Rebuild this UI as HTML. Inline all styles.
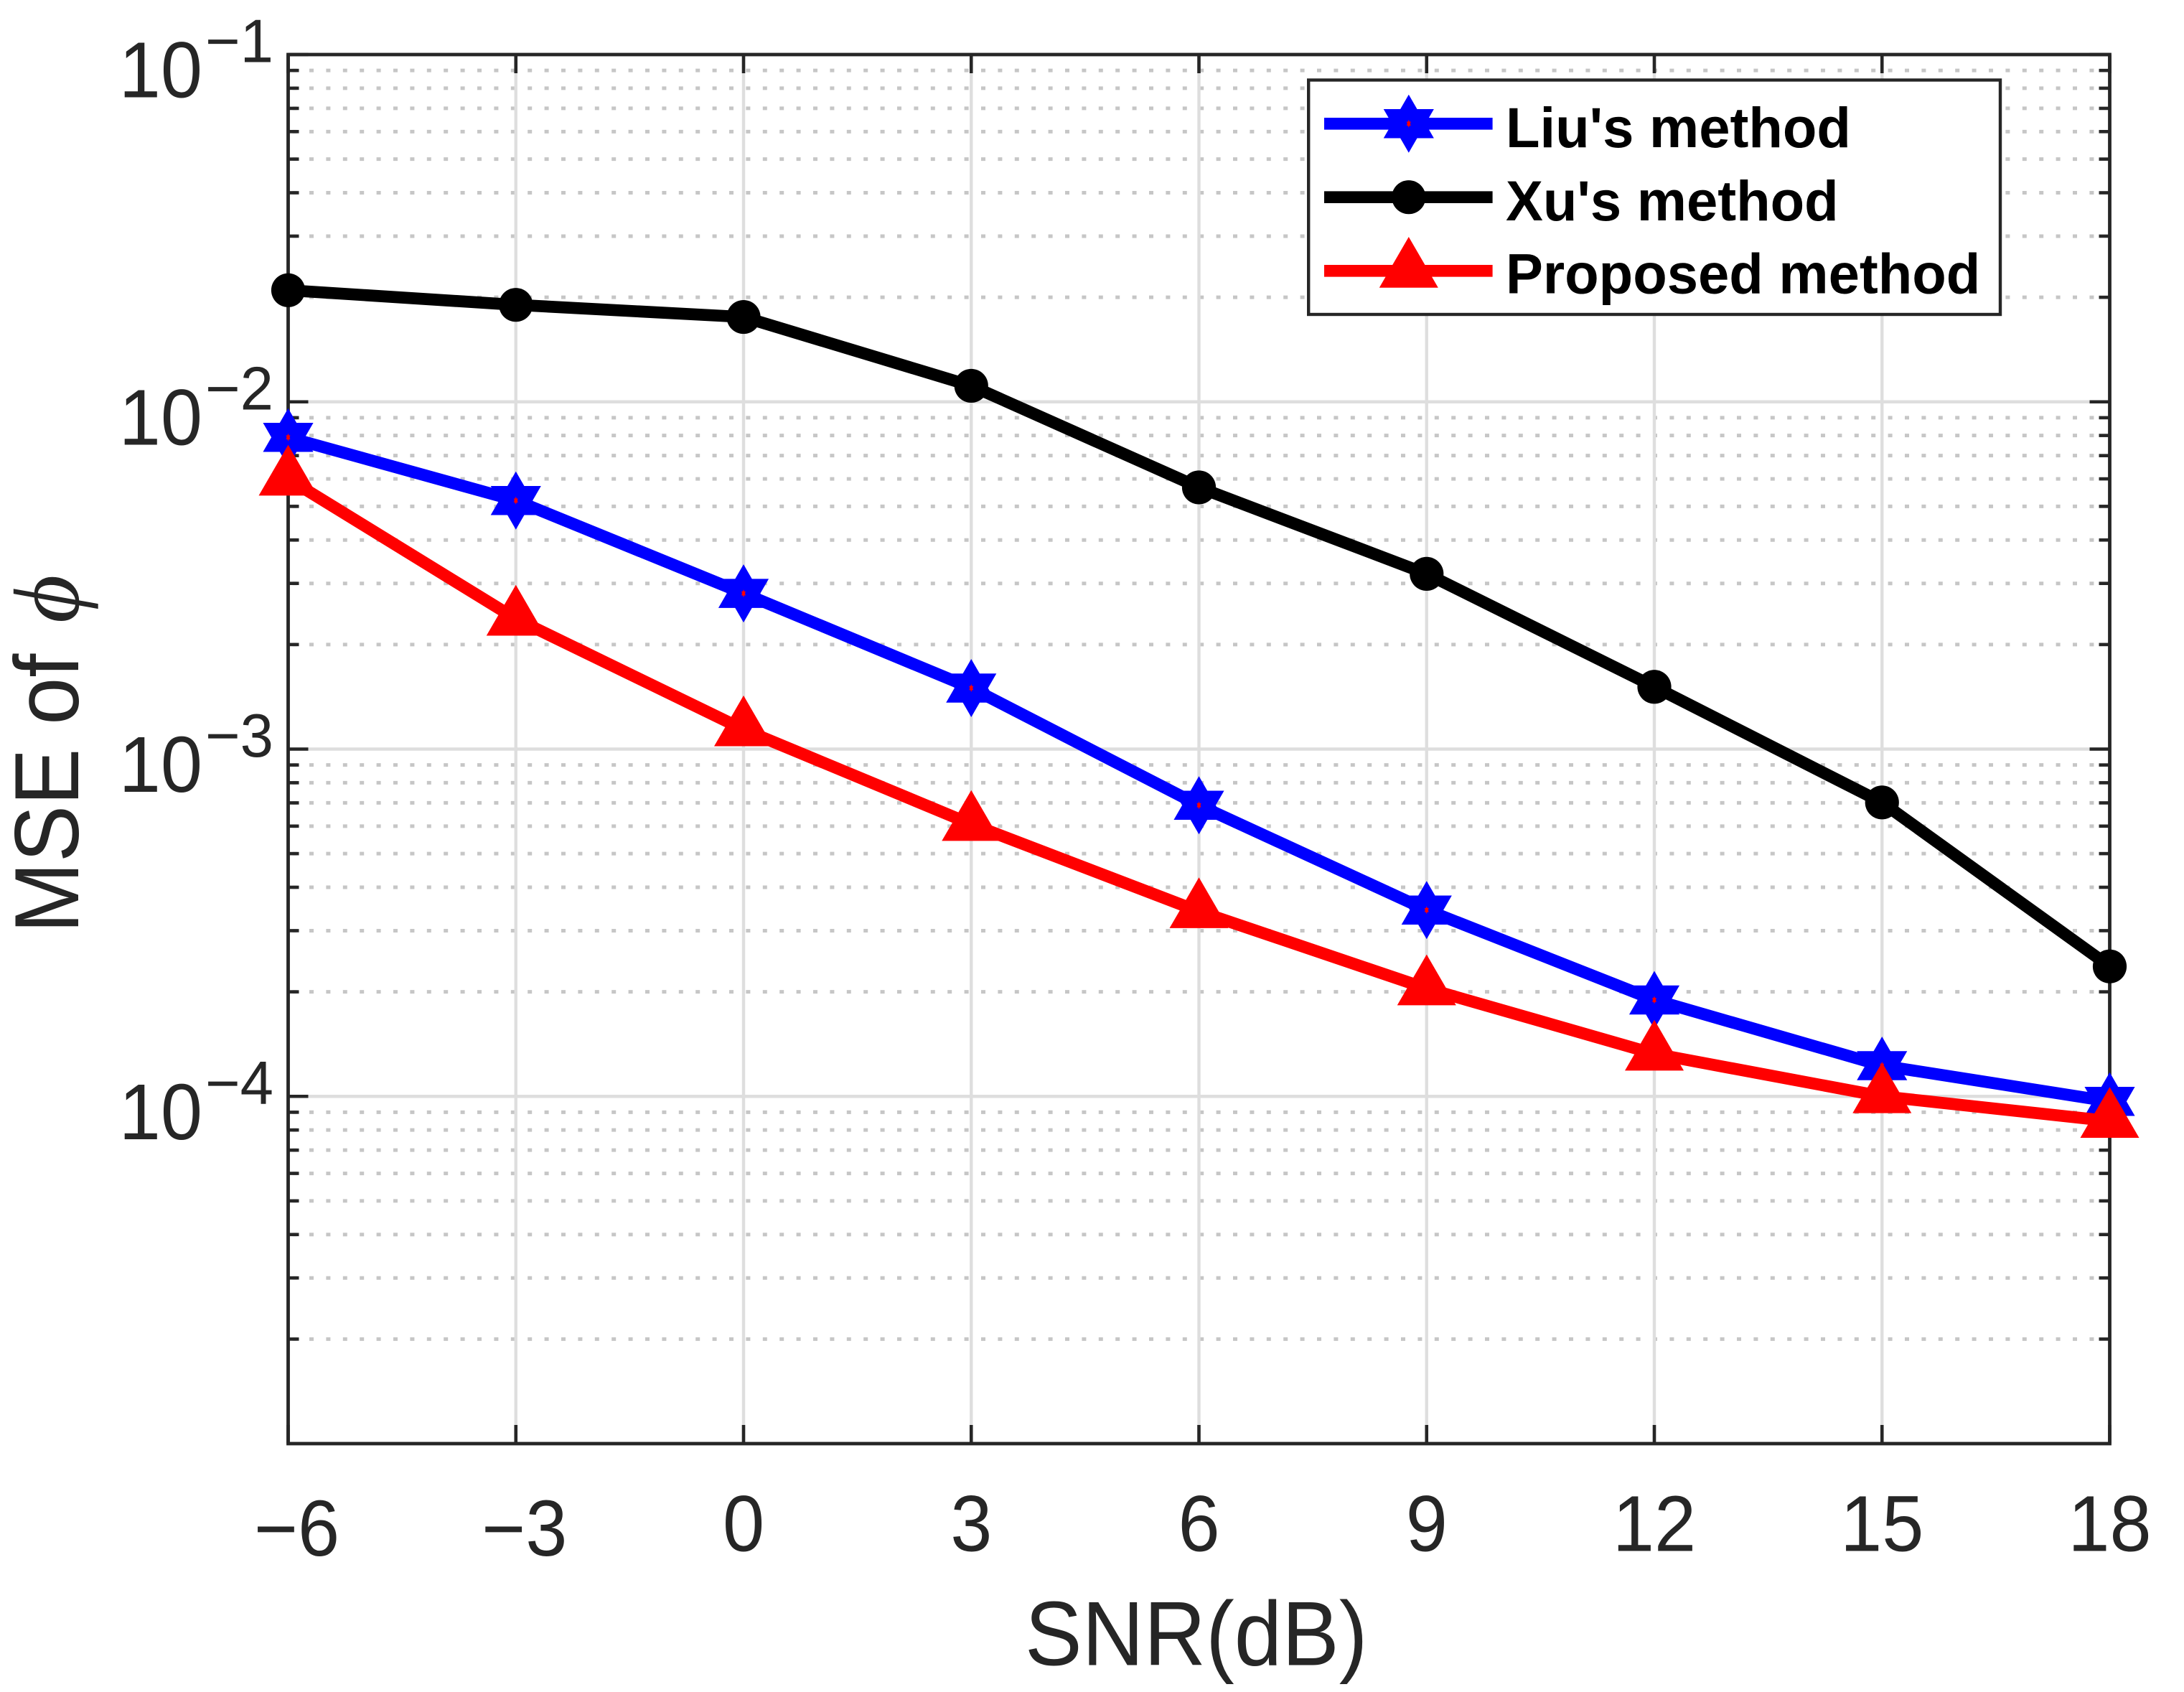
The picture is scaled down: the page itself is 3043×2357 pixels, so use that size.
<!DOCTYPE html>
<html lang="en">
<head>
<meta charset="utf-8">
<title>MSE of phi vs SNR</title>
<style>
html,body{margin:0;padding:0;background:#fff;width:3043px;height:2357px;overflow:hidden}
svg{display:block}
text{font-family:"Liberation Sans",Arial,sans-serif}
</style>
</head>
<body>
<svg id="chart" xmlns="http://www.w3.org/2000/svg" width="3043" height="2357" viewBox="0 0 3043 2357">
  <rect x="0" y="0" width="3043" height="2357" fill="#fff"/>
  <g id="grid"></g>
  <g id="axes"></g>
  <g id="series"></g>
  <g id="legend"></g>
</svg>
<script>
const snrValues = [-6, -3, 0, 3, 6, 9, 12, 15, 18];
const liuValues = [0.00790, 0.005197, 0.002808, 0.001499, 0.000689, 0.000344, 0.0001895, 0.0001226, 0.0000967];
const xuValues = [0.02096, 0.01902, 0.01755, 0.01112, 0.00567, 0.003196, 0.001511, 0.000702, 0.0002367];
const proposedValues = [0.006003, 0.002372, 0.001139, 0.000608, 0.000341, 0.0002045, 0.0001326, 0.0001, 0.0000849];
const yDecadeExponents = [-1, -2, -3, -4];
const yMinorMultipliers = [2, 3, 4, 5, 6, 7, 8, 9];
const legendLabels = ["Liu's method", "Xu's method", "Proposed method"];

const LEFT = 401.5, RIGHT = 2939.5, TOP = 76, BOTTOM = 2011;
const X_MIN = -6, X_MAX = 18, LOG_MAX = -1, LOG_MIN = -5;
const INK = '#262626';
const NS = 'http://www.w3.org/2000/svg';

function xScale(v) { return LEFT + (v - X_MIN) / (X_MAX - X_MIN) * (RIGHT - LEFT); }
function yScale(v) { return TOP + (LOG_MAX - Math.log10(v)) / (LOG_MAX - LOG_MIN) * (BOTTOM - TOP); }

function make(tag, parent, attrs, content) {
  const node = document.createElementNS(NS, tag);
  for (const k in attrs) node.setAttribute(k, attrs[k]);
  if (content !== undefined) node.textContent = content;
  parent.appendChild(node);
  return node;
}
function hexagramPoints(cx, cy, r, sx) {
  const a = [], b = [];
  for (let i = 0; i < 3; i++) {
    const t1 = -Math.PI / 2 + i * 2 * Math.PI / 3;
    const t2 = Math.PI / 2 + i * 2 * Math.PI / 3;
    a.push((cx + sx * r * Math.cos(t1)).toFixed(2) + ',' + (cy + r * Math.sin(t1)).toFixed(2));
    b.push((cx + sx * r * Math.cos(t2)).toFixed(2) + ',' + (cy + r * Math.sin(t2)).toFixed(2));
  }
  return [a.join(' '), b.join(' ')];
}
function drawStar(parent, cx, cy) {
  const outer = hexagramPoints(cx, cy, 40.5, 1);
  const inner = hexagramPoints(cx, cy, 5.5, 0.62);
  outer.forEach(function (p) { make('polygon', parent, { points: p, fill: '#0000ff' }); });
  inner.forEach(function (p) { make('polygon', parent, { points: p, fill: '#ff0000' }); });
}
function drawDot(parent, cx, cy) {
  make('circle', parent, { cx: cx, cy: cy, r: 23.6, fill: '#000' });
}
function drawTriangle(parent, cx, cy) {
  const pts = cx + ',' + (cy - 47.3) + ' ' + (cx + 41) + ',' + (cy + 23.4) + ' ' + (cx - 41) + ',' + (cy + 23.4);
  make('polygon', parent, { points: pts, fill: '#ff0000' });
}

const grid = document.getElementById('grid');
const axes = document.getElementById('axes');
const seriesLayer = document.getElementById('series');
const legend = document.getElementById('legend');

/* minor horizontal grid */
for (let d = LOG_MIN; d < LOG_MAX; d++) {
  yMinorMultipliers.forEach(function (m) {
    const y = yScale(m * Math.pow(10, d));
    const line = make('line', grid, { x1: LEFT + 6.1, x2: RIGHT - 20, y1: y, y2: y, stroke: '#c6c6c6', 'stroke-width': 5, 'stroke-dasharray': '6 17.4' });
    
    
  });
}
/* major grid */
yDecadeExponents.forEach(function (e) {
  const y = yScale(Math.pow(10, e));
  if (y <= TOP + 1) return;
  const line = make('line', grid, { x1: LEFT, x2: RIGHT, y1: y, y2: y, stroke: '#dedede', 'stroke-width': 4.4 });
  
  
});
snrValues.forEach(function (v) {
  if (v === X_MIN || v === X_MAX) return;
  const x = xScale(v);
  const line = make('line', grid, { x1: x, x2: x, y1: TOP, y2: BOTTOM, stroke: '#dedede', 'stroke-width': 4.4 });
  
  
});

/* axes frame */
const frame = make('rect', axes, { x: LEFT, y: TOP, width: RIGHT - LEFT, height: BOTTOM - TOP, fill: 'none', stroke: INK, 'stroke-width': 4.8 });



/* x ticks and labels */
snrValues.forEach(function (v) {
  const x = xScale(v);
  const t1 = make('line', axes, { x1: x, x2: x, y1: BOTTOM, y2: BOTTOM - 26, stroke: INK, 'stroke-width': 4.6 });
  
  
  const t2 = make('line', axes, { x1: x, x2: x, y1: TOP, y2: TOP + 26, stroke: INK, 'stroke-width': 4.6 });
  
  
  const tx = v < 0 ? x + 12 : x;
  const ty = v < 0 ? 2167 : 2160.5;
  const label = make('text', axes, { transform: 'translate(' + tx + ',' + ty + ') scale(0.95,1)', 'text-anchor': 'middle', 'font-size': 110, fill: INK }, (v < 0 ? '\u2212' + Math.abs(v) : String(v)));
  
  
});

/* y ticks */
for (let d = LOG_MIN; d < LOG_MAX; d++) {
  yMinorMultipliers.forEach(function (m) {
    const y = yScale(m * Math.pow(10, d));
    const a = make('line', axes, { x1: LEFT, x2: LEFT + 15, y1: y, y2: y, stroke: INK, 'stroke-width': 4.6 });
    
    
    const b = make('line', axes, { x1: RIGHT, x2: RIGHT - 15, y1: y, y2: y, stroke: INK, 'stroke-width': 4.6 });
    
    
  });
}
yDecadeExponents.forEach(function (e) {
  const y = yScale(Math.pow(10, e));
  const a = make('line', axes, { x1: LEFT, x2: LEFT + 28, y1: y, y2: y, stroke: INK, 'stroke-width': 4.6 });
  
  
  const b = make('line', axes, { x1: RIGHT, x2: RIGHT - 28, y1: y, y2: y, stroke: INK, 'stroke-width': 4.6 });
  
  
  const base = make('text', axes, { transform: 'translate(282,' + (y + 59.5) + ') scale(0.95,1)', 'text-anchor': 'end', 'font-size': 110, fill: INK }, '10');
  
  
  const exp = make('text', axes, { transform: 'translate(286,' + (y + 10.5) + ') scale(0.98,1)', 'font-size': 85, fill: INK }, '\u2212' + Math.abs(e));
  
  
});

/* axis titles */
const xTitle = make('text', axes, { transform: 'translate(1428,2319.5) scale(0.94,1)', 'font-size': 127, fill: INK }, 'SNR(dB)');


const yTitle = make('text', axes, { transform: 'translate(109,1300) rotate(-90) scale(0.935,1)', 'font-size': 127, fill: INK }, 'MSE of');


const yTitlePhi = make('text', axes, { transform: 'translate(109,868) rotate(-90)', 'font-size': 130, 'font-style': 'italic', fill: INK, style: 'font-family:"Liberation Serif","DejaVu Serif",serif' }, '\u03D5');



/* series */
function drawSeries(values, color, marker, name) {
  const g = make('g', seriesLayer, {});
  
  
  const pts = snrValues.map(function (v, i) { return xScale(v).toFixed(2) + ',' + yScale(values[i]).toFixed(2); }).join(' ');
  const line = make('polyline', g, { points: pts, fill: 'none', stroke: color, 'stroke-width': 16.7, 'stroke-linejoin': 'round' });
  
  
  snrValues.forEach(function (v, i) {
    const m = make('g', g, {});
    
    
    marker(m, xScale(v), yScale(values[i]));
  });
}
drawSeries(liuValues, '#0000ff', drawStar, 'liu-series');
drawSeries(xuValues, '#000000', drawDot, 'xu-series');
drawSeries(proposedValues, '#ff0000', drawTriangle, 'proposed-series');

/* legend */
const legendBox = make('rect', legend, { x: 1823.2, y: 111.5, width: 963.8, height: 326.5, fill: '#fff', stroke: INK, 'stroke-width': 4.4 });


const legendColors = ['#0000ff', '#000000', '#ff0000'];
const legendMarkers = [drawStar, drawDot, drawTriangle];
const legendLineY = [172.3, 274.7, 377.3];
const legendBaseY = [205, 307, 408.5];
legendLabels.forEach(function (label, i) {
  const item = make('g', legend, {});
  
  
  const sw = make('line', item, { x1: 1845, x2: 2079.6, y1: legendLineY[i], y2: legendLineY[i], stroke: legendColors[i], 'stroke-width': 16.7 });
  
  
  legendMarkers[i](item, 1962.8, legendLineY[i]);
  const t = make('text', item, { transform: 'translate(2098,' + legendBaseY[i] + ') scale(0.985,1)', 'font-size': 79, 'font-weight': 'bold', fill: '#000' }, label);
  
  
});
</script>
</body>
</html>
